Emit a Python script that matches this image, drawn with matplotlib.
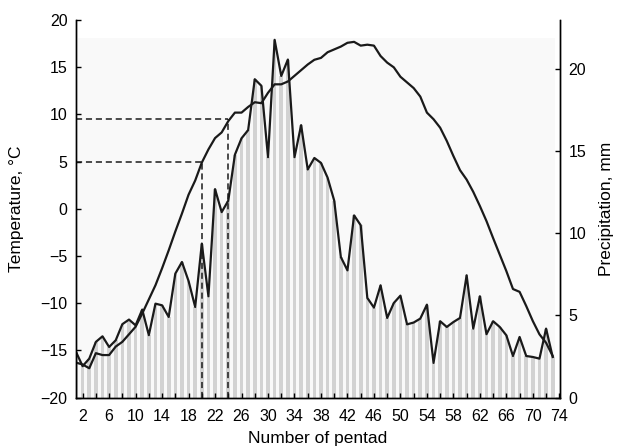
import matplotlib
matplotlib.use("Agg")
import matplotlib.pyplot as plt
from matplotlib.patches import Rectangle
import numpy as np

plt.rcParams['font.family'] = ['Liberation Sans', 'DejaVu Sans']

pentads = list(range(1, 74))

# mean air temperature by pentad, deg C
temperature = [-16.3, -16.5, -16.9, -15.3, -15.5, -15.5, -14.6, -14.1, -13.3, -12.5,
               -11.1, -9.6, -8.1, -6.3, -4.4, -2.4, -0.5, 1.5, 3.0, 4.9,
               6.3, 7.5, 8.1, 9.3, 10.2, 10.2, 10.8, 11.3, 11.2, 12.3,
               13.2, 13.2, 13.5, 14.1, 14.7, 15.3, 15.8, 16.0, 16.6, 16.9,
               17.2, 17.6, 17.7, 17.3, 17.4, 17.3, 16.2, 15.5, 15.0, 14.0,
               13.4, 12.8, 11.9, 10.2, 9.5, 8.6, 7.2, 5.6, 4.1, 3.1,
               1.8, 0.3, -1.3, -3.1, -4.85, -6.6, -8.5, -8.8, -10.3, -11.9,
               -13.3, -14.2, -15.6]

# precipitation by pentad, mm
precipitation = [2.78, 1.91, 2.37, 3.39, 3.73, 3.08, 3.49, 4.47, 4.75, 4.40,
                 5.36, 3.80, 5.72, 5.62, 4.91, 7.55, 8.26, 7.10, 5.52, 9.38,
                 6.17, 12.7, 11.3, 12.0, 14.8, 15.8, 16.3, 19.4, 19.0, 14.65,
                 21.8, 19.6, 20.6, 14.65, 16.6, 13.9, 14.6, 14.3, 13.4, 12.0,
                 8.56, 7.75, 11.1, 10.5, 6.07, 5.48, 6.84, 4.85, 5.76, 6.21,
                 4.46, 4.57, 4.81, 5.66, 2.11, 4.65, 4.30, 4.6, 4.85, 7.45,
                 4.2, 6.17, 3.86, 4.65, 4.30, 3.79, 2.53, 3.69, 2.53, 2.47,
                 2.37, 4.2, 2.47]

# threshold temperatures and the pentads where they are crossed
thresholds = [5, 9.5]
cross_pentads = [20, 24]

fig = plt.figure(figsize=(6.2, 4.48), dpi=100)
ax = fig.add_axes([0.1226, 0.1127, 0.7806, 0.8423])
ax2 = ax.twinx()

# precipitation on the right axis, kept underneath the temperature axis
ax2.add_patch(Rectangle((0.004, 0), 0.986, 0.953, transform=ax2.transAxes,
                        facecolor='#f9f9f9', edgecolor='none', zorder=0))
ax2.bar(pentads, precipitation, width=0.55, color='#d2d2d2', zorder=1)
ax2.plot(pentads, precipitation, color='#1a1a1a', lw=1.6, zorder=2)
ax2.set_ylim(0, 23)
ax2.set_yticks([0, 5, 10, 15, 20])
ax2.set_ylabel('Precipitation, mm', fontsize=12.5, labelpad=9)

ax.set_zorder(ax2.get_zorder() + 1)
ax.patch.set_visible(False)
ax.plot(pentads, temperature, color='#1a1a1a', lw=1.6)
for t, p in zip(thresholds, cross_pentads):
    ax.plot([1, p], [t, t], color='#1a1a1a', lw=1.1, ls=(0, (4, 2.5)))
    ax.plot([p, p], [-20, t], color='#1a1a1a', lw=1.1, ls=(0, (4, 2.5)))

ax.set_xlim(1, 74.1)
ax.set_ylim(-20, 20)
ax.set_yticks(np.arange(-20, 21, 5))
ax.set_xticks(np.arange(2, 75, 4))
ax.set_xticks(np.arange(4, 73, 4), minor=True)
ax.set_xlabel('Number of pentad', fontsize=12.5, labelpad=5)
ax.set_ylabel('Temperature, \u00b0C', fontsize=12.5, labelpad=12)

for a in (ax, ax2):
    a.spines['top'].set_visible(False)
    for s in a.spines.values():
        s.set_linewidth(1.0)
    a.tick_params(direction='in', length=3.5, width=1, labelsize=11.5, pad=6)
    a.tick_params(which='minor', direction='in', length=3.5, width=1)
ax.tick_params(axis='x', pad=8)

fig.savefig('out.png', dpi=100)
